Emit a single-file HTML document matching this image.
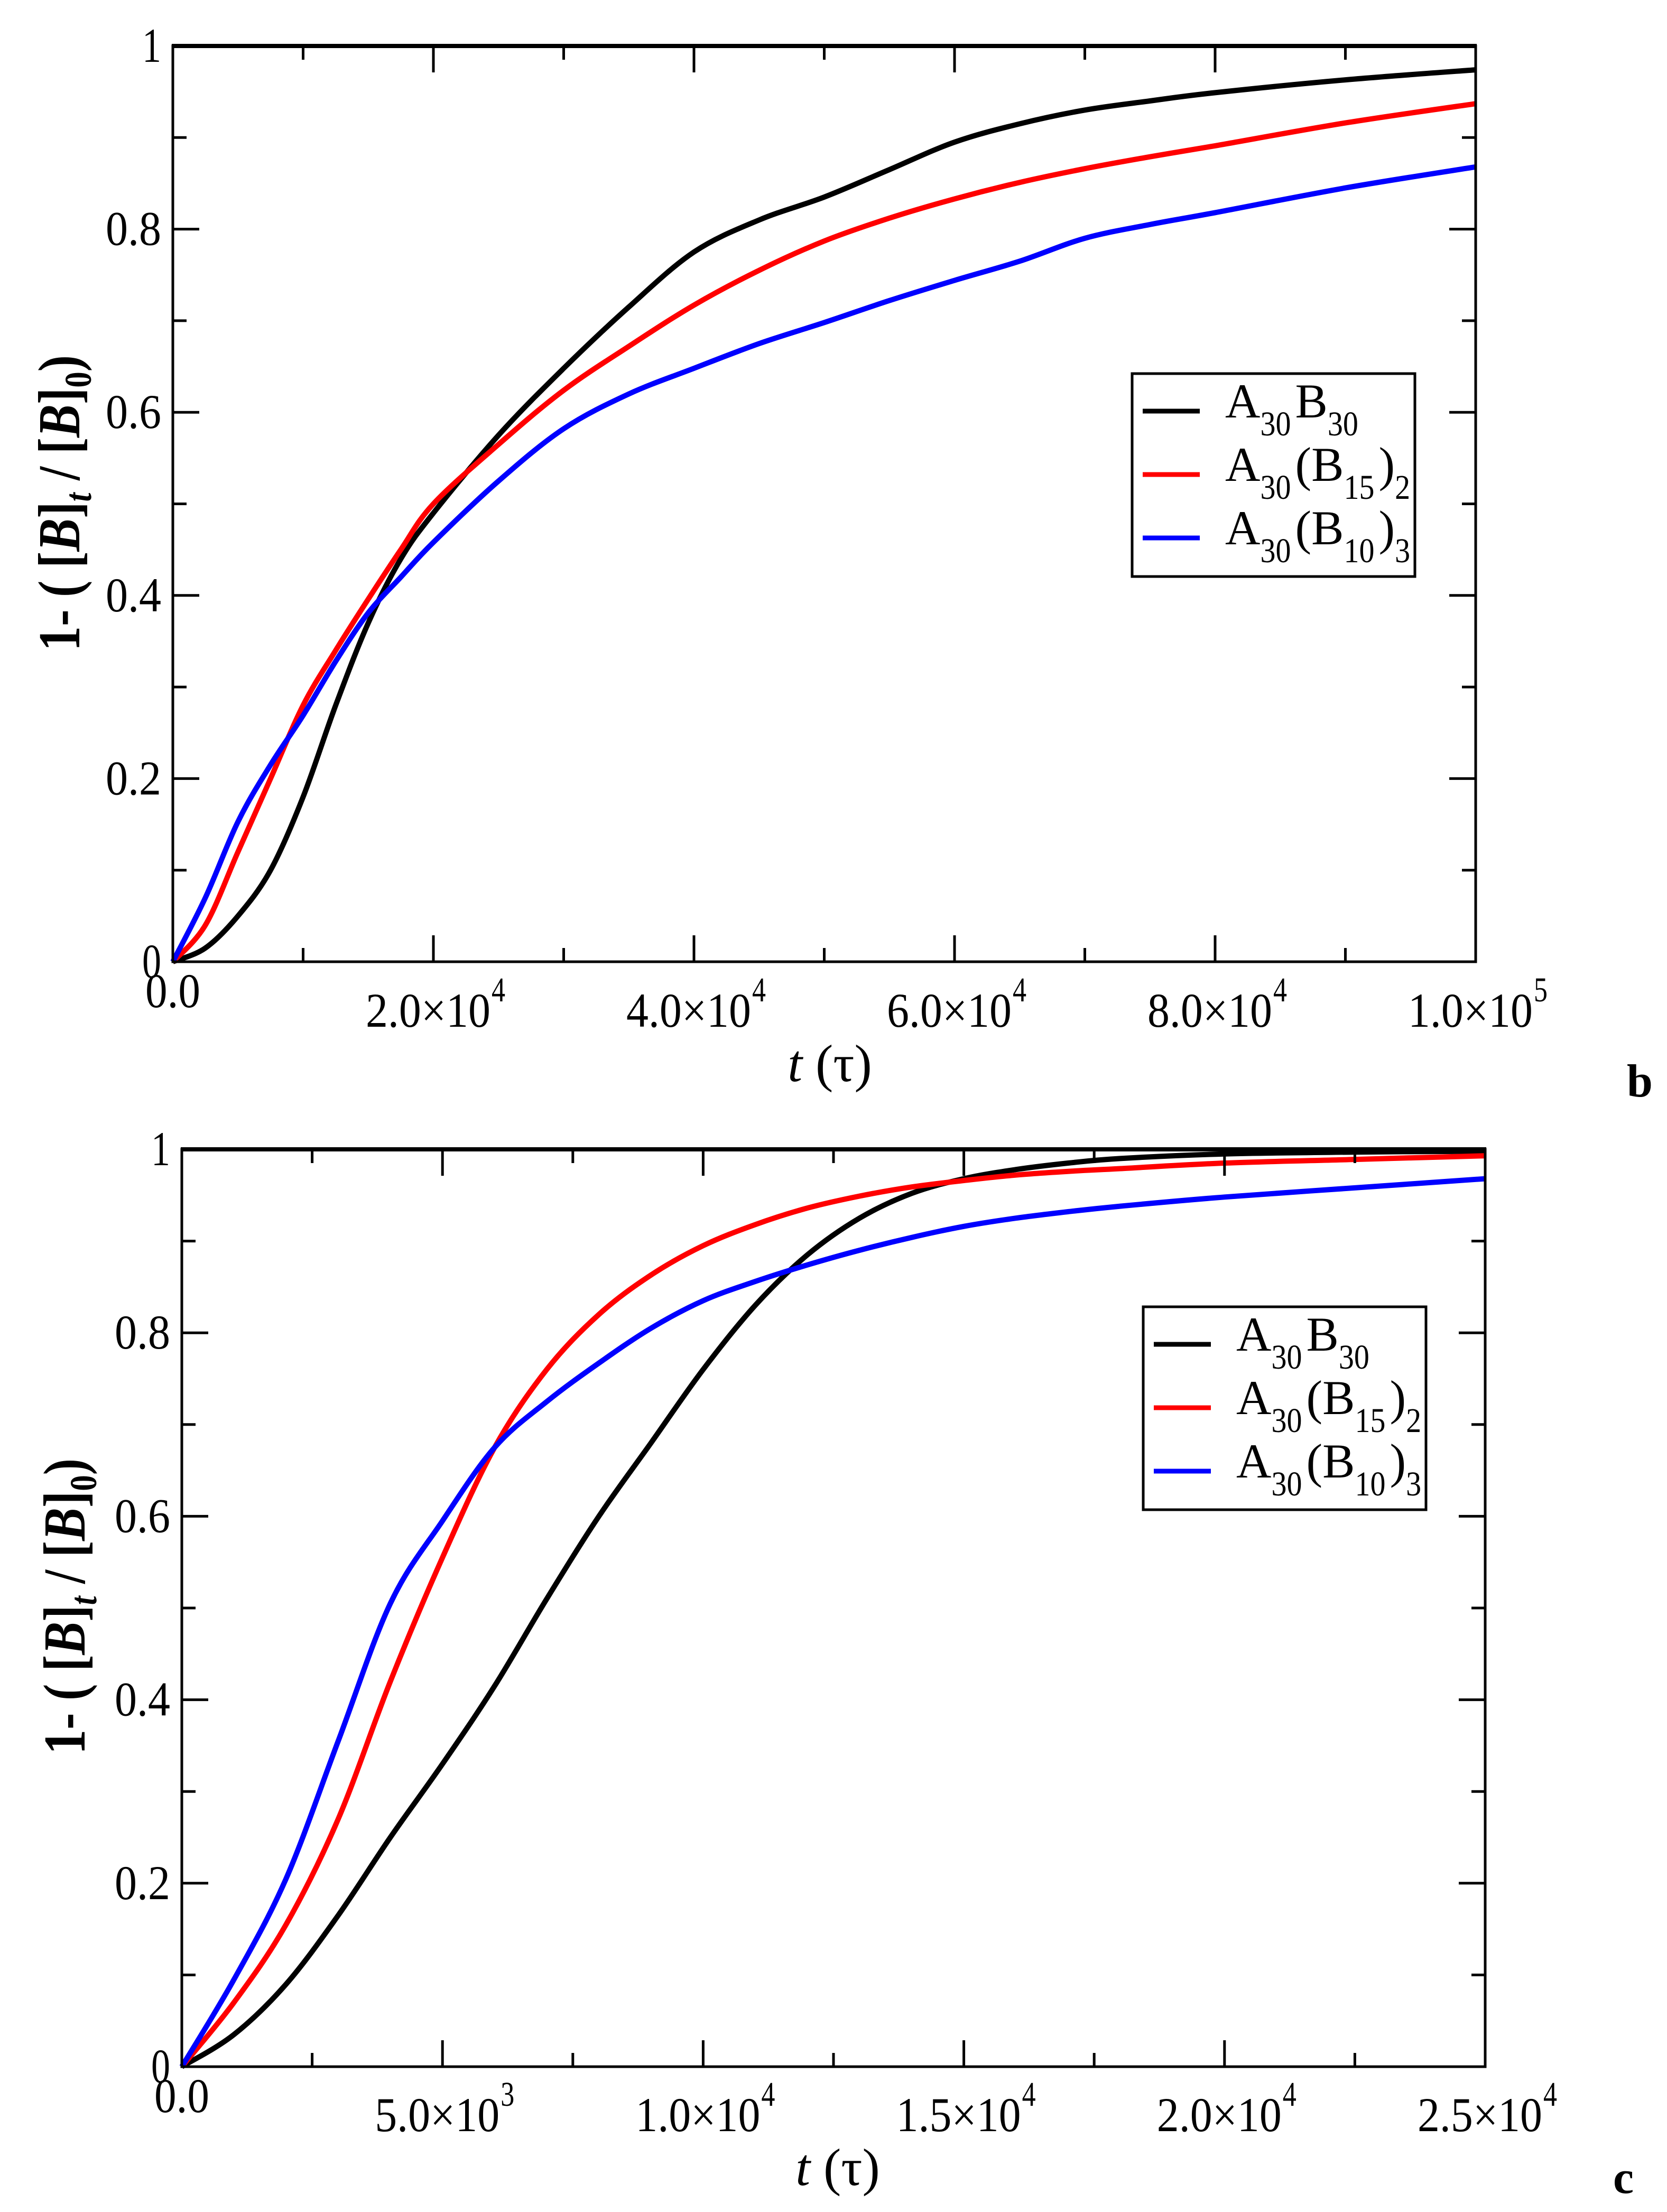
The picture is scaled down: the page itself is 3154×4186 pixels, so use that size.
<!DOCTYPE html>
<html><head><meta charset="utf-8"><style>
html,body{margin:0;padding:0;background:#fff}
svg{display:block}
text{font-family:"Liberation Serif","Times New Roman",serif;fill:#000}
</style></head><body>
<svg id="fig" width="3154" height="4186" viewBox="0 0 3154 4186" xmlns="http://www.w3.org/2000/svg"></svg>
<script>
// ---- Panel b data (t in units of 1e4 tau) ----
const bT = [0, 0.25, 0.5, 0.75, 1.0, 1.25, 1.5, 1.75, 2.0, 2.5, 3.0, 3.5, 4.0, 4.5, 5.0, 5.5, 6.0, 6.5, 7.0, 7.5, 8.0, 9.0, 10.0];
const bBlack = [0, 0.015, 0.05, 0.10, 0.18, 0.28, 0.37, 0.44, 0.49, 0.575, 0.648, 0.715, 0.775, 0.81, 0.835, 0.865, 0.895, 0.915, 0.93, 0.94, 0.949, 0.963, 0.974];
const bRed   = [0, 0.04, 0.12, 0.20, 0.28, 0.34, 0.396, 0.45, 0.50, 0.565, 0.624, 0.672, 0.717, 0.755, 0.787, 0.812, 0.833, 0.851, 0.866, 0.879, 0.891, 0.916, 0.937];
const bBlue  = [0, 0.07, 0.153, 0.215, 0.269, 0.328, 0.381, 0.42, 0.458, 0.525, 0.582, 0.62, 0.648, 0.675, 0.698, 0.722, 0.744, 0.765, 0.79, 0.805, 0.818, 0.845, 0.868];
const bXTicks = [0, 2, 4, 6, 8, 10];
const bXTickMain = ["0.0", "2.0\u00d710", "4.0\u00d710", "6.0\u00d710", "8.0\u00d710", "1.0\u00d710"];
const bXTickSup = ["", "4", "4", "4", "4", "5"];
// ---- Panel c data (t in units of 1e3 tau) ----
const cT = [0, 1, 2, 3, 4, 5, 6, 7, 8, 9, 10, 11, 12, 13, 14, 15, 16, 17, 18, 20, 22.5, 25];
const cBlack = [0, 0.035, 0.09, 0.165, 0.25, 0.33, 0.415, 0.51, 0.60, 0.68, 0.76, 0.83, 0.885, 0.925, 0.952, 0.968, 0.978, 0.985, 0.99, 0.995, 0.997, 0.998];
const cRed   = [0, 0.07, 0.155, 0.27, 0.42, 0.555, 0.675, 0.76, 0.82, 0.863, 0.895, 0.918, 0.936, 0.949, 0.959, 0.966, 0.972, 0.976, 0.979, 0.985, 0.989, 0.993];
const cBlue  = [0, 0.095, 0.205, 0.355, 0.505, 0.595, 0.675, 0.725, 0.767, 0.805, 0.835, 0.856, 0.874, 0.89, 0.904, 0.916, 0.925, 0.932, 0.938, 0.948, 0.958, 0.968];
const cXTicks = [0, 5, 10, 15, 20, 25];
const cXTickMain = ["0.0", "5.0\u00d710", "1.0\u00d710", "1.5\u00d710", "2.0\u00d710", "2.5\u00d710"];
const cXTickSup = ["", "3", "4", "4", "4", "4"];
const yTicks = [0, 0.2, 0.4, 0.6, 0.8, 1];
const yTickLabels = ["0", "0.2", "0.4", "0.6", "0.8", "1"];
const legendNames = [["A","30","B","30"], ["A","30","(B","15",")","2"], ["A","30","(B","10",")","3"]];
const colors = ["#000000", "#ff0000", "#0000ff"];

const NS = "http://www.w3.org/2000/svg";
const svg = document.getElementById('fig');
function mk(tag, attrs, parent) {
  const e = document.createElementNS(NS, tag);
  for (const k in attrs) e.setAttribute(k, attrs[k]);
  (parent || svg).appendChild(e);
  return e;
}
function smoothPath(pts) {
  let d = "M" + pts[0][0].toFixed(1) + "," + pts[0][1].toFixed(1);
  for (let i = 0; i < pts.length - 1; i++) {
    const p0 = pts[Math.max(0, i - 1)], p1 = pts[i], p2 = pts[i + 1], p3 = pts[Math.min(pts.length - 1, i + 2)];
    const c1x = p1[0] + (p2[0] - p0[0]) / 6, c1y = p1[1] + (p2[1] - p0[1]) / 6;
    const c2x = p2[0] - (p3[0] - p1[0]) / 6, c2y = p2[1] - (p3[1] - p1[1]) / 6;
    d += "C" + c1x.toFixed(1) + "," + c1y.toFixed(1) + " " + c2x.toFixed(1) + "," + c2y.toFixed(1) + " " + p2[0].toFixed(1) + "," + p2[1].toFixed(1);
  }
  return d;
}

function panel(cfg) {
  const g = mk('g', {});
  
  
  const L = cfg.L, R = cfg.R, T = cfg.T, B = cfg.B;
  const xs = v => L + (v - cfg.xmin) / (cfg.xmax - cfg.xmin) * (R - L);
  const ys = v => B - v * (B - T);
  cfg.series.forEach((s, i) => {
    const pts = cfg.t.map((t, j) => [xs(t), ys(s[j])]);
    const p = mk('path', {d: smoothPath(pts), fill: 'none', stroke: colors[i], 'stroke-width': 10, 'stroke-linejoin': 'round'}, g);
    
    
  });
  const fr = mk('rect', {x: L, y: T, width: R - L, height: B - T, fill: 'none', stroke: '#000', 'stroke-width': 5}, g);
  
  
  mk('line', {x1: L - 2, y1: T, x2: R + 2, y2: T, stroke: '#000', 'stroke-width': 8}, g);
  const xt = mk('g', {}, g);
  
  
  const step = (cfg.xTicks[1] - cfg.xTicks[0]) / 2;
  for (let v = cfg.xmin; v <= cfg.xmax + 1e-9; v += step) {
    const major = Math.abs(((v - cfg.xmin) / (2 * step)) - Math.round((v - cfg.xmin) / (2 * step))) < 1e-6;
    const len = major ? 50 : 26;
    const x = xs(v);
    if (v > cfg.xmin && v < cfg.xmax) {
      mk('line', {x1: x, y1: B, x2: x, y2: B - len, stroke: '#000', 'stroke-width': 5}, xt);
      mk('line', {x1: x, y1: T, x2: x, y2: T + len, stroke: '#000', 'stroke-width': 5}, xt);
    }
  }
  cfg.xTicks.forEach((v, i) => {
    const x = xs(v);
    if (cfg.xSup[i] === "") {
      const tx = mk('text', {x: x, y: cfg.x0Base, 'font-size': 92, 'text-anchor': 'middle', textLength: 104, lengthAdjust: 'spacingAndGlyphs'}, xt);
      tx.textContent = cfg.xMain[i];
      
      
    } else {
      const tx = mk('text', {x: x - 10, y: cfg.xBase, 'font-size': 92, 'text-anchor': 'middle', textLength: 236, lengthAdjust: 'spacingAndGlyphs'}, xt);
      tx.textContent = cfg.xMain[i];
      
      
      const sp = mk('text', {x: x + 110, y: cfg.xBase - 48, 'font-size': 66, textLength: 26, lengthAdjust: 'spacingAndGlyphs'}, xt);
      sp.textContent = cfg.xSup[i];
      
      
    }
  });
  const yt = mk('g', {}, g);
  
  
  for (let k = 1; k < 10; k++) {
    const v = k / 10, y = ys(v), len = (k % 2 === 0) ? 50 : 26;
    mk('line', {x1: L, y1: y, x2: L + len, y2: y, stroke: '#000', 'stroke-width': 5}, yt);
    mk('line', {x1: R, y1: y, x2: R - len, y2: y, stroke: '#000', 'stroke-width': 5}, yt);
  }
  yTicks.forEach((v, i) => {
    const lbl = yTickLabels[i];
    const tx = mk('text', {x: L - 22, y: ys(v) + 30, 'font-size': 92, 'text-anchor': 'end', textLength: lbl.length === 1 ? 36 : 105, lengthAdjust: 'spacingAndGlyphs'}, yt);
    tx.textContent = lbl;
    
    
  });
  const ytg = mk('g', {transform: 'translate(' + cfg.ytX + ',' + cfg.ytY + ') rotate(-90)'}, g);
  const yT = mk('text', {x: 0, y: 0, 'font-size': 112, 'font-weight': 'bold', 'text-anchor': 'middle', textLength: 560, lengthAdjust: 'spacingAndGlyphs'}, ytg);
  
  
  yT.innerHTML = '1- ( [<tspan font-style="italic">B</tspan>]<tspan font-style="italic" font-size="72" dy="22">t</tspan><tspan dy="-22"> / [</tspan><tspan font-style="italic">B</tspan>]<tspan font-size="72" dy="22">0</tspan><tspan dy="-22">)</tspan>';
  const xT = mk('text', {x: cfg.xtX, y: cfg.xtY, 'font-size': 100, 'text-anchor': 'middle'}, g);
  
  
  xT.innerHTML = '<tspan font-style="italic">t</tspan> (\u03c4)';
  const lg = mk('g', {}, g);
  
  
  mk('rect', {x: cfg.lgX, y: cfg.lgY, width: 535, height: 384, fill: '#fff', stroke: '#000', 'stroke-width': 5}, lg);
  legendNames.forEach((parts, i) => {
    const cy = cfg.lgY + 71 + i * 120;
    const ln = mk('line', {x1: cfg.lgX + 20, y1: cy, x2: cfg.lgX + 128, y2: cy, stroke: colors[i], 'stroke-width': 9}, lg);
    
    
    const base = cy + 12;
    const tx = mk('text', {x: cfg.lgX + 176, y: base, 'font-size': 92}, lg);
    
    
    let html = '';
    parts.forEach(p => {
      const isSub = /^[0-9]+$/.test(p);
      if (isSub) html += '<tspan font-size="66" y="' + (base + 34) + '" textLength="' + (p.length * 29) + '" lengthAdjust="spacingAndGlyphs">' + p + '</tspan>';
      else html += '<tspan y="' + base + '">' + p + '</tspan>';
    });
    tx.innerHTML = html;
  });
  const pl = mk('text', {x: cfg.pX, y: cfg.pY, 'font-size': 88, 'font-weight': 'bold'}, g);
  pl.textContent = cfg.letter;
  
  
}

panel({name: 'panel-b', L: 327, R: 2792, T: 87, B: 1820, xmin: 0, xmax: 10, t: bT, series: [bBlack, bRed, bBlue],
  xTicks: bXTicks, xMain: bXTickMain, xSup: bXTickSup, xBase: 1943, x0Base: 1906,
  ytX: 150, ytY: 952, xtX: 1570, xtY: 2046, lgX: 2142, lgY: 707, pX: 3078, pY: 2075, letter: 'b'});
panel({name: 'panel-c', L: 344, R: 2810, T: 2175, B: 3911, xmin: 0, xmax: 25, t: cT, series: [cBlack, cRed, cBlue],
  xTicks: cXTicks, xMain: cXTickMain, xSup: cXTickSup, xBase: 4033, x0Base: 3997,
  ytX: 160, ytY: 3040, xtX: 1585, xtY: 4135, lgX: 2163, lgY: 2473, pX: 3052, pY: 4150, letter: 'c'});
</script>
</body></html>
